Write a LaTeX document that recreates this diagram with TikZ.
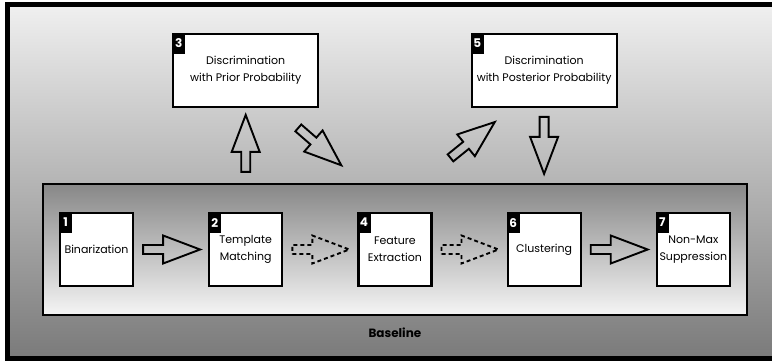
\documentclass[tikz,border=0pt]{standalone}
\usepackage{fontspec}
\setmainfont{Poppins}
\usepackage{xcolor}
\usetikzlibrary{positioning,calc,fit,backgrounds}

\begin{document}
\begin{tikzpicture}[x=1pt, y=1pt,
  stage/.style={draw, line width=2.2pt, fill=white, align=center, inner sep=1pt,
    minimum width=73pt, minimum height=73pt, font=\fontsize{11}{17}\selectfont},
  widestage/.style={stage, minimum width=145pt},
  tag/.style={fill=black, text=white, inner sep=0pt, anchor=north west,
    minimum width=13pt, minimum height=21pt, font=\bfseries\fontsize{12}{12}\selectfont},
  blockarrow/.pic={\draw[line width=1.9pt, pic actions]
    (0,-4.5) -- (20,-4.5) -- (20,-14) -- (57,0) -- (20,14) -- (20,4.5) -- (0,4.5) -- cycle;},
  dashedarrow/.style={line width=2.3pt, dash pattern=on 4pt off 3pt}]
\useasboundingbox (0,0) rectangle (772,360);

% baseline chain
\node[stage] (bin) at (96.5,110.5) {Binarization};
\node[stage, right=74pt of bin] (tmpl) {Template\\Matching};
\node[stage, right=74pt of tmpl] (feat) {Feature\\Extraction};
\node[stage, right=74pt of feat] (clust) {Clustering};
\node[stage, right=74pt of clust] (nms) {Non-Max\\Suppression};

% discrimination steps
\node[widestage, above=104pt of tmpl] (prior) {Discrimination\\with Prior Probability};
\node[widestage, above=104pt of clust] (post) {Discrimination\\with Posterior Probability};

% number tags
\node[tag] (t1) at (bin.north west) {1};
\node[tag] (t2) at (tmpl.north west) {2};
\node[tag] (t3) at (prior.north west) {3};
\node[tag] (t4) at (feat.north west) {4};
\node[tag] (t5) at (post.north west) {5};
\node[tag] (t6) at (clust.north west) {6};
\node[tag] (t7) at (nms.north west) {7};

% block arrows
\pic at ($(bin.east)+(9,0)$) {blockarrow};
\pic[dashedarrow] at ($(tmpl.east)+(9,0)$) {blockarrow};
\pic[dashedarrow] at ($(feat.east)+(9,0)$) {blockarrow};
\pic at ($(clust.east)+(9,0)$) {blockarrow};
\pic[rotate=90] at ($(tmpl.north)+(0,40)$) {blockarrow};
\pic[rotate=-41] at ($(prior.south east)+(-21,-20)$) {blockarrow};
\pic[rotate=39] at ($(post.south west)+(-20,-50)$) {blockarrow};
\pic[rotate=-90] at ($(post.south)+(0,-9)$) {blockarrow};

\begin{pgfonlayer}{background}
  \clip (0,0) rectangle (772,360);
  \draw[line width=5pt, top color=black!6, bottom color=black!52] (7.5,2) rectangle (790,355.5);
  \node[fit=(bin)(nms), draw, line width=2pt, inner xsep=16pt, inner ysep=28pt,
    top color=black!47, bottom color=black!4] (base) {};
\end{pgfonlayer}
\node[font=\bfseries\fontsize{12}{12}\selectfont] (baselbl) at ($(base.south)+(0,-17)$) {Baseline};
\end{tikzpicture}
\end{document}
